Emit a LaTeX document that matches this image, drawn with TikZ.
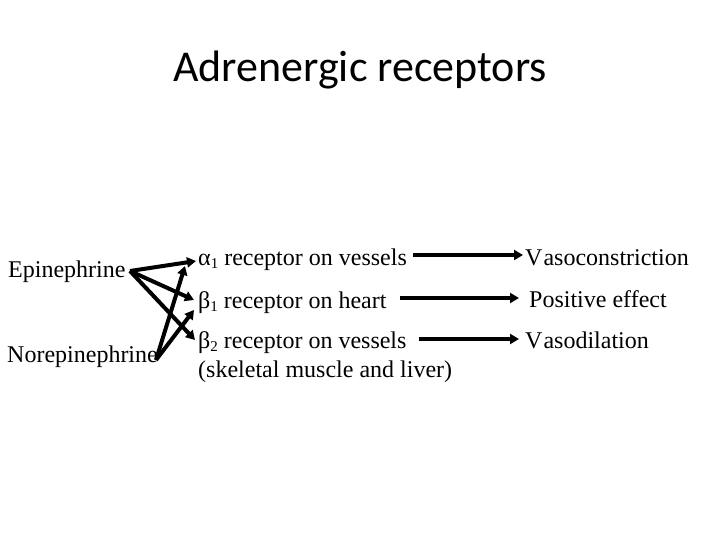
\documentclass[tikz,border=0pt]{standalone}
\usepackage{fontspec}
\setmainfont{Liberation Serif}
\newfontfamily\titlefont{Carlito}
\usetikzlibrary{arrows.meta}
\newcommand{\subn}[1]{\raisebox{-0.3ex}{\fontsize{15}{15}\selectfont #1}}
\begin{document}
\begin{tikzpicture}[x=1pt,y=-1pt,
  txt/.style={inner sep=0pt,anchor=base west,font=\fontsize{24}{29}\selectfont},
  arr/.style={line width=4pt,-{Triangle[length=9pt,width=10pt]},shorten >=0pt}]
\useasboundingbox (0,0) rectangle (720,540);
\fill[white] (0,0) rectangle (720,540);
\node[inner sep=0pt,anchor=base,font=\titlefont\fontsize{44}{52}\selectfont] (title) at (360,82) {Adrenergic receptors};
% left column
\node[txt] (epi) at (8,277) {Epinephrine};
\node[txt] (nor) at (7,362) {Norepinephrine};
% middle column
\node[txt] (a1) at (198,265) {α\subn{1} receptor on vessels};
\node[txt] (b1) at (198,308) {β\subn{1} receptor on heart};
\node[txt,align=left] (b2) at (198,348) {β\subn{2} receptor on vessels};
\node[txt] (skel) at (198,377) {(skeletal muscle and liver)};
% right column
\node[txt] (vc) at (525,265) {V\kern1pt asoconstriction};
\node[txt] (pe) at (529,307) {Positive effect};
\node[txt] (vd) at (525,348) {V\kern1pt asodilation};
% coordinates
\coordinate (epiS) at (130,271);
\coordinate (norS) at (156,360);
\coordinate (a1L) at (196,261);
\coordinate (a1Lb) at (185,266);
\coordinate (b1L) at (194,300);
\coordinate (b1Lb) at (194,310);
\coordinate (b2L) at (195,340);
\coordinate (a1R) at (413,255);
\coordinate (b1R) at (400,298);
\coordinate (b2R) at (419,339);
\coordinate (vcL) at (523,255);
\coordinate (peL) at (519,298);
\coordinate (vdL) at (519,339);
% connectors
\draw[arr] (epiS) -- (a1L);
\draw[arr] (epiS) -- (b1L);
\draw[arr] (epiS) -- (b2L);
\draw[arr] (norS) -- (a1Lb);
\draw[arr] (norS) -- (b1Lb);
\draw[arr,line width=3.5pt] (a1R) -- (vcL);
\draw[arr,line width=3.5pt] (b1R) -- (peL);
\draw[arr,line width=3.5pt] (b2R) -- (vdL);
\end{tikzpicture}
\end{document}
